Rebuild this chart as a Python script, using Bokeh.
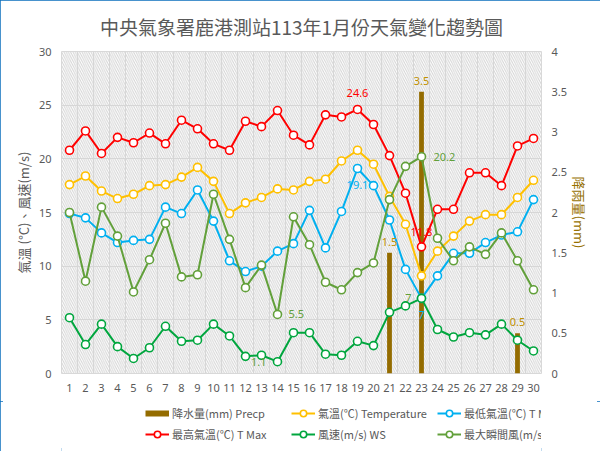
import math
from bokeh.plotting import figure
from bokeh.layouts import column
from bokeh.models import (Range1d, LinearAxis, FixedTicker, NumeralTickFormatter,
                          Legend, LegendItem, BoxAnnotation, ColumnDataSource)
from bokeh.core.properties import value
from bokeh.embed import file_html
from bokeh.resources import INLINE

# ---------------- data ----------------
days = list(range(1, 31))
precip = [0, 0, 0, 0, 0, 0, 0, 0, 0, 0, 0, 0, 0, 0, 0, 0, 0, 0, 0, 0,
          1.5, 0, 3.5, 0, 0, 0, 0, 0, 0.5, 0]
temp = [17.6, 18.4, 17.0, 16.3, 16.7, 17.5, 17.6, 18.3, 19.2, 17.9, 14.9, 15.9, 16.4, 17.2, 17.1,
        17.9, 18.1, 19.8, 20.8, 19.5, 16.5, 13.9, 9.1, 11.4, 12.8, 14.2, 14.8, 14.8, 16.4, 18.0]
tmin = [14.9, 14.5, 13.1, 12.2, 12.4, 12.5, 15.5, 14.9, 17.1, 14.2, 10.5, 9.5, 10.0, 11.4, 12.1,
        15.2, 11.7, 15.1, 19.1, 17.5, 14.3, 9.7, 7.0, 9.1, 11.2, 11.2, 12.2, 12.9, 13.2, 16.2]
tmax = [20.8, 22.6, 20.5, 22.0, 21.5, 22.4, 21.4, 23.6, 22.8, 21.4, 20.8, 23.5, 23.0, 24.5, 22.2,
        21.3, 24.1, 23.9, 24.6, 23.2, 20.3, 16.8, 11.8, 15.3, 15.3, 18.7, 18.7, 17.5, 21.2, 21.9]
ws = [5.2, 2.7, 4.6, 2.5, 1.4, 2.4, 4.4, 3.0, 3.1, 4.6, 3.5, 1.6, 1.7, 1.1, 3.8,
      3.8, 1.8, 1.7, 3.0, 2.6, 5.7, 6.3, 7.0, 4.1, 3.4, 3.8, 3.6, 4.6, 3.1, 2.1]
gust = [15.0, 8.6, 15.5, 12.8, 7.6, 10.6, 14.0, 9.0, 9.2, 16.7, 12.5, 8.0, 10.1, 5.5, 14.6,
        12.0, 8.5, 7.8, 9.4, 10.3, 16.2, 19.3, 20.2, 12.6, 10.5, 11.8, 11.1, 13.1, 10.5, 7.8]

left_ticks = [0, 5, 10, 15, 20, 25, 30]
right_ticks = [0, 0.5, 1, 1.5, 2, 2.5, 3, 3.5, 4]

title_text = "中央氣象署鹿港測站113年1月份天氣變化趨勢圖"
left_title = "氣溫 (°C)、風速(m/s)"
right_title = "降雨量(mm)"
names = ["降水量(mm) Precp", "氣溫(℃) Temperature", "最低氣溫(℃) T Min",
         "最高氣溫(℃) T Max", "風速(m/s) WS", "最大瞬間風(m/s) WSGust"]

C_PRE = "#946C00"
C_PRE_LBL = "#BF9000"
C_TEMP = "#FFC000"
C_TMIN = "#00B0F0"
C_TMAX = "#FF0000"
C_WS = "#00A63E"
C_GUST = "#62A03A"
GRAY = "#595959"
CJK = "Noto Sans CJK TC"

# ---------------- main figure ----------------
p = figure(width=600, height=401, frame_width=480, frame_height=322,
           output_backend="svg", toolbar_location=None,
           x_range=Range1d(0.5, 30.5), y_range=Range1d(0, 30),
           min_border_left=61, min_border_right=59, min_border_top=51, min_border_bottom=28)
p.background_fill_color = "white"
p.border_fill_color = "white"
p.outline_line_color = "#D9D9D9"
p.extra_y_ranges = {"rain": Range1d(0, 4)}

p.title.text = title_text
p.title.align = "center"
p.title.vertical_align = "top"
p.title.text_font = CJK
p.title.text_font_size = "19px"
p.title.text_font_style = "normal"
p.title.text_color = GRAY
p.title.standoff = 20

# hatch background
p.add_layout(BoxAnnotation(fill_alpha=0, line_alpha=0, hatch_pattern="\\", hatch_color="#D4D4D4",
                           hatch_scale=4.5, hatch_weight=1, level="underlay"))

# axes
lax = p.left[0]
p.xaxis.ticker = FixedTicker(ticks=days)
lax.ticker = FixedTicker(ticks=left_ticks)
rax = LinearAxis(y_range_name="rain", ticker=FixedTicker(ticks=right_ticks),
                 formatter=NumeralTickFormatter(format="0.[0]"))
p.add_layout(rax, "right")
for ax in [p.below[0], lax, rax]:
    ax.axis_line_color = None
    ax.major_tick_line_color = None
    ax.minor_tick_line_color = None
    ax.major_tick_out = 0
    ax.minor_tick_out = 0
    ax.major_label_text_color = GRAY
    ax.major_label_text_font = "Noto Sans"
    ax.major_label_text_font_size = "11px"
    ax.major_label_standoff = 10
    ax.axis_label_text_font = CJK
    ax.axis_label_text_font_size = "13px"
    ax.axis_label_text_font_style = "normal"
rax.axis_label = right_title
rax.axis_label_text_color = "#967000"
rax.axis_label_standoff = 0
lax.axis_label = left_title
lax.axis_label_text_color = GRAY
lax.axis_label_standoff = 3

# grids
p.xgrid.ticker = FixedTicker(ticks=[d - 0.5 for d in days] + [days[-1] + 0.5])
p.ygrid.ticker = FixedTicker(ticks=left_ticks)
p.xgrid.grid_line_color = "#D9D9D9"
p.ygrid.grid_line_color = "#D9D9D9"

# ---------------- glyphs ----------------
p.vbar(x=days, top=precip, width=0.3, fill_color=C_PRE, line_color=None, y_range_name="rain")

def series(vals, color):
    p.line(x=days, y=vals, line_color=color, line_width=2)
    p.scatter(x=days, y=vals, size=8, marker="circle", fill_color="white",
              line_color=color, line_width=1.6)

series(temp, C_TEMP)
series(tmin, C_TMIN)
series(tmax, C_TMAX)
series(ws, C_WS)
series(gust, C_GUST)

# ---------------- data labels ----------------
def dlabel(vals, day, color, xo, yo, align, rng=None):
    i = days.index(day)
    src = ColumnDataSource(dict(x=[day], y=[vals[i]], t=[f"{vals[i]:g}"]))
    kw = dict(y_range_name=rng) if rng else {}
    p.text(x="x", y="y", text="t", source=src, text_color=color, x_offset=xo, y_offset=yo,
           text_align=align, text_baseline="middle", text_font=value("Noto Sans"),
           text_font_size=value("11px"), **kw)

dlabel(tmax, 19, C_TMAX, 0, -16, "center")
dlabel(tmax, 23, C_TMAX, 0, -15, "center")
dlabel(tmin, 19, C_TMIN, 0, 17, "center")
dlabel(tmin, 23, C_TMIN, 0, 17, "center")
dlabel(gust, 23, C_GUST, 12, 0, "left")
dlabel(gust, 14, C_GUST, 11, 0, "left")
dlabel(ws, 14, C_GUST, -11, 0, "right")
dlabel(ws, 23, C_GUST, -10, 0, "right")
dlabel(precip, 21, C_PRE_LBL, 0, -11, "center", "rain")
dlabel(precip, 23, C_PRE_LBL, 0, -11, "center", "rain")
dlabel(precip, 29, C_PRE_LBL, 0, -11, "center", "rain")

# ---------------- legend strip (separate small figure below) ----------------
lp = figure(width=600, height=50, output_backend="svg", toolbar_location=None,
            x_range=Range1d(0, 1), y_range=Range1d(0, 1),
            x_axis_type=None, y_axis_type=None,
            min_border_left=0, min_border_right=0, min_border_top=0, min_border_bottom=0)
lp.outline_line_color = None
lp.background_fill_color = "white"
lp.border_fill_color = "white"

nan = float("nan")
pre_proxy = lp.line(x=[nan], y=[nan], line_color=C_PRE, line_width=6)

def proxy(color):
    l = lp.line(x=[nan], y=[nan], line_color=color, line_width=2)
    s = lp.scatter(x=[nan], y=[nan], size=8, marker="circle", fill_color="white",
                   line_color=color, line_width=1.6)
    return [l, s]

def make_legend(items, loc):
    return Legend(items=items, location=loc, orientation="horizontal",
                  padding=0, margin=0, spacing=5, glyph_width=24, glyph_height=16,
                  label_standoff=3, label_width=114,
                  label_text_font_size="11px", label_text_color=GRAY, label_text_font=CJK,
                  background_fill_alpha=0, border_line_color=None)

row1 = [LegendItem(label=names[0], renderers=[pre_proxy]),
        LegendItem(label=names[1], renderers=proxy(C_TEMP)),
        LegendItem(label=names[2], renderers=proxy(C_TMIN))]
row2 = [LegendItem(label=names[3], renderers=proxy(C_TMAX)),
        LegendItem(label=names[4], renderers=proxy(C_WS)),
        LegendItem(label=names[5], renderers=proxy(C_GUST))]
lp.add_layout(make_legend(row1, (84, 30)), "center")
lp.add_layout(make_legend(row2, (84, 9)), "center")

root = column(p, lp)
root.styles = {"outline": "3px solid #0A6EBD", "outline-offset": "-3px"}

open("out.html", "w").write(file_html(root, INLINE))
